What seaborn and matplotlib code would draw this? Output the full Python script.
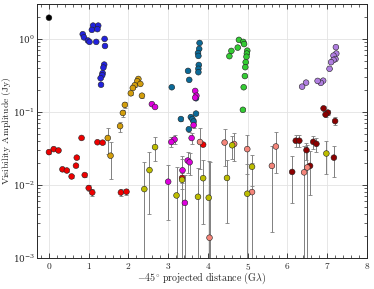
import numpy as np
import pandas as pd
import matplotlib
matplotlib.use("Agg")
import matplotlib.pyplot as plt
import matplotlib.ticker as mticker
import seaborn as sns

# ---- data (x in G-lambda, y in Jy) ----
black_x = [0.0]
black_y = [1.95]
black_e = [0.02]

blue_x = [1.11, 1.24, 1.08, 1.22, 0.85, 0.88, 0.98, 1.02, 1.19, 1.40, 1.41,
          1.39, 1.37, 1.35, 1.34, 1.30, 1.31]
blue_y = [1.52, 1.52, 1.33, 1.36, 1.16, 1.05, 0.95, 0.91, 0.91, 1.0, 0.80,
          0.445, 0.405, 0.34, 0.318, 0.29, 0.236]
blue_e = [0.01] * len(blue_x)

gold_x = [2.25, 2.22, 2.30, 2.16, 2.11, 2.06, 2.34, 1.91, 1.86, 1.79, 1.48, 1.55]
gold_y = [0.283, 0.263, 0.242, 0.232, 0.213, 0.18, 0.167, 0.125, 0.097, 0.064,
          0.044, 0.0252]
gold_e = [0.01, 0.01, 0.01, 0.01, 0.01, 0.01, 0.01, 0.012, 0.011, 0.01, 0.017, 0.013]

red_x = [0.0, 0.12, 0.24, 0.34, 0.45, 0.57, 0.68, 0.70, 0.82, 0.90, 1.00, 1.09,
         1.22, 1.35, 1.81, 1.95, 3.88, 3.35]
red_y = [0.0282, 0.031, 0.0297, 0.0164, 0.0158, 0.0131, 0.0184, 0.0237, 0.0441,
         0.0137, 0.0091, 0.0079, 0.0385, 0.038, 0.0079, 0.0081, 0.0357, 0.0125]
red_e = [0.0012, 0.0012, 0.0012, 0.0009, 0.0009, 0.0008, 0.0009, 0.001, 0.0015,
         0.0008, 0.0009, 0.0008, 0.0013, 0.0013, 0.0008, 0.0008, 0.002, 0.002]

teal_x = [3.79, 3.78, 3.75, 3.76, 3.77, 3.76, 3.76, 3.50, 3.53, 3.09, 3.70, 3.70,
          3.57, 3.61, 3.64, 3.32, 3.52]
teal_y = [0.88, 0.73, 0.64, 0.585, 0.44, 0.39, 0.35, 0.365, 0.275, 0.218, 0.154,
          0.095, 0.085, 0.080, 0.074, 0.08, 0.058]
teal_e = [0.005] * len(teal_x)

mag_x = [3.68, 3.71, 3.68, 2.59, 2.67, 3.64, 3.59, 3.16, 3.08, 3.49, 3.54, 3.36,
         3.0, 3.42]
mag_y = [0.194, 0.167, 0.157, 0.128, 0.117, 0.066, 0.044, 0.042, 0.0388, 0.0216,
         0.0205, 0.0159, 0.0111, 0.0057]
mag_e = [0.004, 0.004, 0.004, 0.003, 0.003, 0.005, 0.007, 0.006, 0.006, 0.007,
         0.007, 0.007, 0.0078, 0.008]

green_x = [4.78, 4.89, 4.91, 4.75, 4.59, 4.99, 4.98, 4.97, 4.54, 4.95, 4.94,
           4.93, 4.90, 4.88]
green_y = [0.97, 0.91, 0.85, 0.76, 0.685, 0.69, 0.63, 0.57, 0.58, 0.48, 0.41,
           0.31, 0.218, 0.107]
green_e = [0.005] * len(green_x)

purple_x = [7.22, 7.23, 7.16, 7.21, 7.16, 7.10, 7.06, 6.90, 6.84, 6.76, 6.47, 6.37]
purple_y = [0.77, 0.63, 0.59, 0.53, 0.515, 0.48, 0.39, 0.268, 0.25, 0.266,
            0.252, 0.222]
purple_e = [0.005] * len(purple_x)

dred_x = [6.91, 7.02, 6.96, 7.20, 6.21, 6.30, 6.65, 6.73, 6.48, 7.17, 6.12, 6.57]
dred_y = [0.112, 0.098, 0.092, 0.075, 0.0404, 0.0404, 0.039, 0.0366, 0.030,
          0.0237, 0.0151, 0.0183]
dred_e = [0.008, 0.008, 0.008, 0.009, 0.0075, 0.0075, 0.008, 0.008, 0.008,
          0.011, 0.0095, 0.011]

salmon_x = [5.71, 5.61, 6.42, 6.50, 5.11, 3.80, 4.42, 4.66, 4.99, 4.04]
salmon_y = [0.0337, 0.0183, 0.0149, 0.0174, 0.0080, 0.0388, 0.0381, 0.0364,
            0.031, 0.0019]
salmon_e = [0.019, 0.016, 0.019, 0.018, 0.012, 0.022, 0.02, 0.015, 0.017, 0.019]

olive_x = [2.40, 2.53, 2.67, 3.21, 3.35, 3.75, 3.88, 4.02, 4.48, 4.61, 4.99,
           5.11, 6.98]
olive_y = [0.0088, 0.016, 0.033, 0.0072, 0.0118, 0.0069, 0.0124, 0.0067,
           0.0125, 0.035, 0.0076, 0.0178, 0.027]
olive_e = [0.012, 0.012, 0.012, 0.0104, 0.013, 0.0102, 0.0095, 0.0146, 0.0095,
           0.012, 0.012, 0.008, 0.013]

groups = {
    'black': (black_x, black_y, black_e),
    'blue': (blue_x, blue_y, blue_e),
    'gold': (gold_x, gold_y, gold_e),
    'red': (red_x, red_y, red_e),
    'teal': (teal_x, teal_y, teal_e),
    'magenta': (mag_x, mag_y, mag_e),
    'green': (green_x, green_y, green_e),
    'purple': (purple_x, purple_y, purple_e),
    'darkred': (dred_x, dred_y, dred_e),
    'salmon': (salmon_x, salmon_y, salmon_e),
    'olive': (olive_x, olive_y, olive_e),
}
palette = {
    'black': '#000000', 'blue': '#2222dd', 'gold': '#d39e0c', 'red': '#ee0000',
    'teal': '#0b6a98', 'magenta': '#dd00dd', 'green': '#33cc33',
    'purple': '#b07ee0', 'darkred': '#8b0000', 'salmon': '#f4857a',
    'olive': '#bdbd00',
}

df = pd.concat([pd.DataFrame({'x': v[0], 'y': v[1], 'err': v[2], 'group': k})
                for k, v in groups.items()], ignore_index=True)

sns.set_style('ticks')
plt.rcParams['font.family'] = 'serif'
plt.rcParams['font.serif'] = ['DejaVu Serif']
plt.rcParams['mathtext.fontset'] = 'cm'

fig, ax = plt.subplots(figsize=(3.74, 2.89), dpi=100)
fig.subplots_adjust(left=0.099, right=0.981, top=0.986, bottom=0.107)

ax.errorbar(df['x'], df['y'], yerr=df['err'], fmt='none', ecolor='#808080',
            elinewidth=0.7, capsize=1.5, capthick=0.6, zorder=2)
sns.scatterplot(data=df, x='x', y='y', hue='group', palette=palette, ax=ax,
                s=17, edgecolor='#222222', linewidth=0.4, legend=False, zorder=3)

ax.set_yscale('log')
ax.set_xlim(-0.3, 8)
ax.set_ylim(1e-3, 3)
ax.xaxis.set_major_locator(mticker.MultipleLocator(1))
ax.xaxis.set_minor_locator(mticker.MultipleLocator(0.2))
ax.xaxis.set_major_formatter(mticker.FuncFormatter(lambda v, p: f'${v:g}$'))
ax.grid(True, which='major', color='#e3e3e3', lw=0.6, zorder=0)
ax.tick_params(which='both', direction='in', top=True, right=True, labelsize=6.8, pad=2)
ax.tick_params(axis='y', which='both', labelsize=6.4, pad=1.5)
ax.tick_params(which='major', length=3.5, width=0.6)
ax.tick_params(which='minor', length=2, width=0.5)
for s in ax.spines.values():
    s.set_linewidth(0.7)

ax.set_xlabel(r'$-45^{\circ}\ \mathrm{projected\ distance\ (G\lambda)}$', fontsize=7.2)
ax.set_ylabel(r'$\mathrm{Visibility\ Amplitude\ (Jy)}$', fontsize=7.0)
ax.xaxis.set_label_coords(0.5, -0.05)
ax.yaxis.set_label_coords(-0.073, 0.5)

fig.savefig('out.png', dpi=100)
